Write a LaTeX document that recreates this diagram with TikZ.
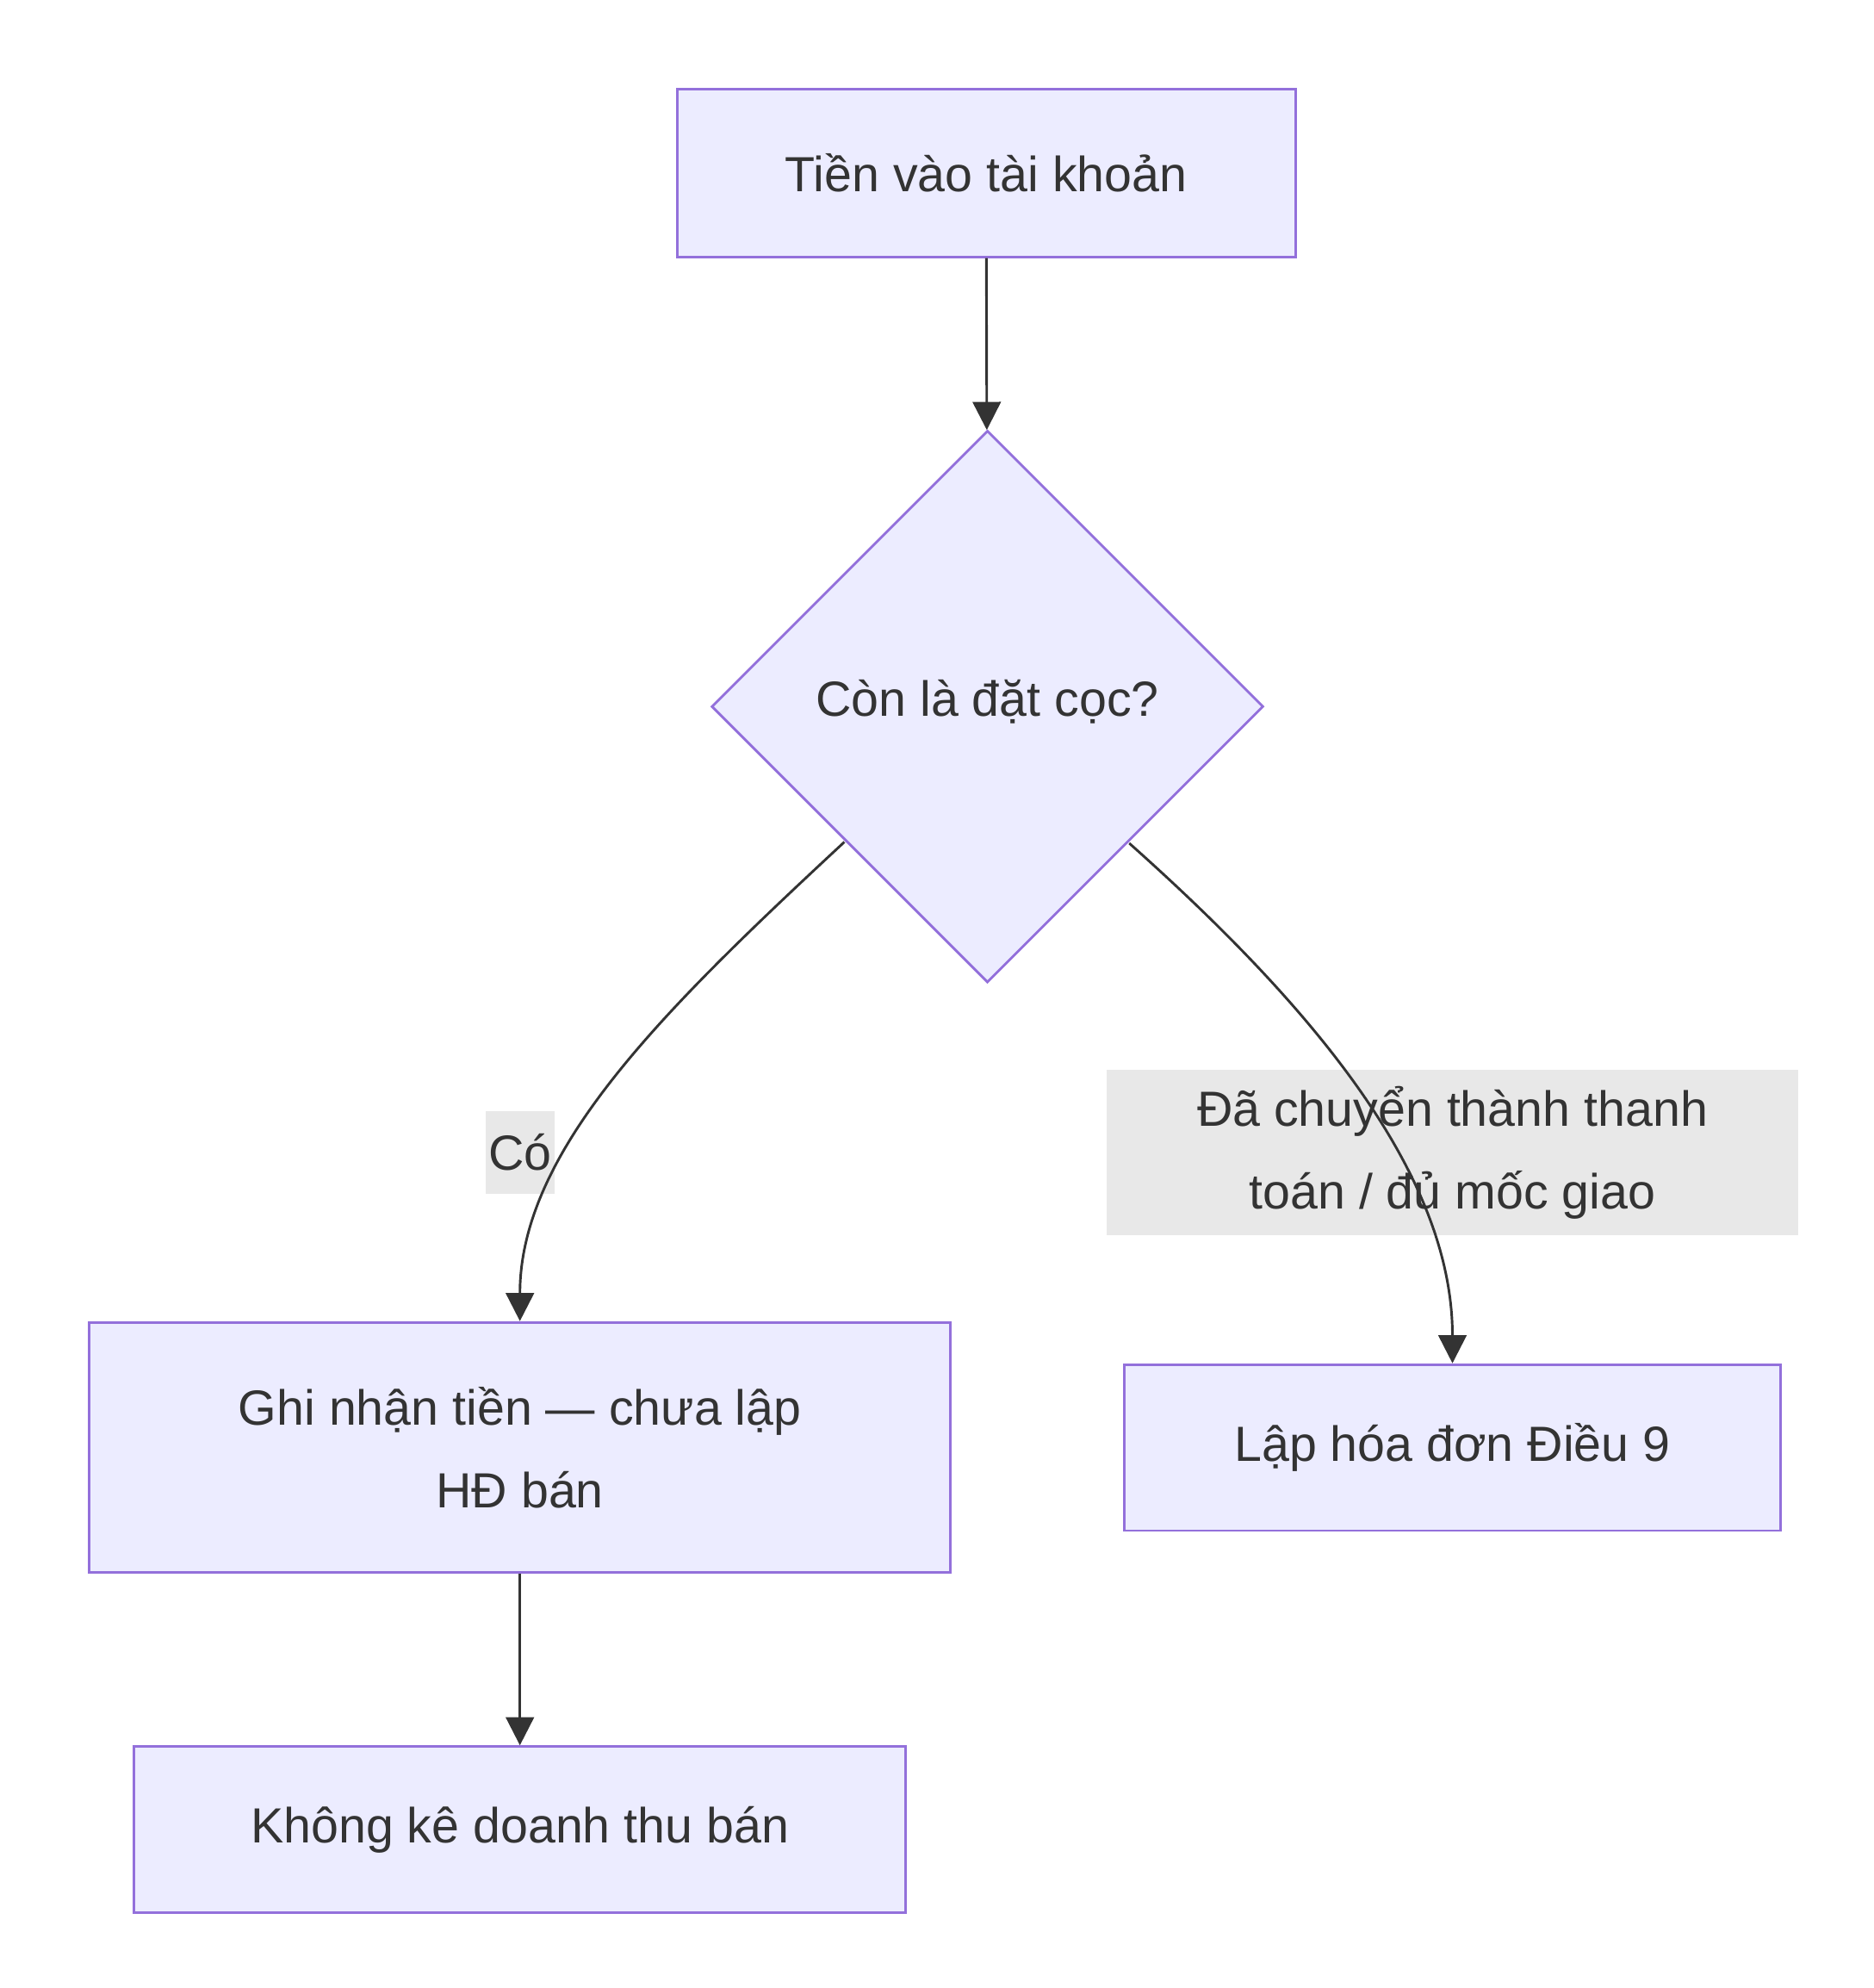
\documentclass[tikz,border=0pt]{standalone}
\usepackage{fontspec}
\setmainfont{Liberation Sans}
\usetikzlibrary{arrows.meta,shapes.geometric}
\definecolor{nfill}{HTML}{ECECFF}
\definecolor{nstroke}{HTML}{9370DB}
\definecolor{edge}{HTML}{333333}
\definecolor{lbl}{HTML}{E8E8E8}
\begin{document}
\begin{tikzpicture}[x=0.05cm,y=-0.05cm,
  every node/.style={font=\fontsize{55}{92}\selectfont, text=edge},
  box/.style={draw=nstroke, fill=nfill, line width=2.8pt, inner sep=0pt, align=center},
  lab/.style={fill=lbl, inner sep=0pt, align=center},
  arr/.style={draw=edge, line width=2.8pt, -{Triangle[length=1.1cm,width=1.1cm]}}]
\useasboundingbox (0,0) rectangle (1467,1556);
\node[box, minimum width=24.2cm, minimum height=6.55cm] (a) at (772,135.5) {Tiền vào tài khoản};
\node[box, diamond, minimum width=21.6cm, minimum height=21.6cm, aspect=1] (b) at (773,553) {};
\node at (773,549) {Còn là đặt cọc?};
\node[box, minimum width=33.7cm, minimum height=9.8cm] (c) at (407,1133) {Ghi nhận tiền — chưa lập\\HĐ bán};
\node[box, minimum width=25.7cm, minimum height=6.5cm] (d) at (1137,1133) {Lập hóa đơn Điều 9};
\node[box, minimum width=30.2cm, minimum height=6.5cm] (e) at (407,1432) {Không kê doanh thu bán};
\node[lab, minimum width=2.7cm, minimum height=3.25cm] (l1) at (407,902) {Có};
\node[lab, minimum width=27.1cm, minimum height=6.5cm] (l2) at (1137,902) {Đã chuyển thành thanh\\ toán / đủ mốc giao};
\coordinate (bl) at (661,659);
\coordinate (br) at (884,660);
\draw[arr] (a) -- (b);
\draw[arr] (bl) .. controls (520,790) and (407,900) .. (c.north);
\draw[arr] (br) .. controls (1030,790) and (1137,920) .. (d.north);
\draw[arr] (c) -- (e);
\end{tikzpicture}
\end{document}
